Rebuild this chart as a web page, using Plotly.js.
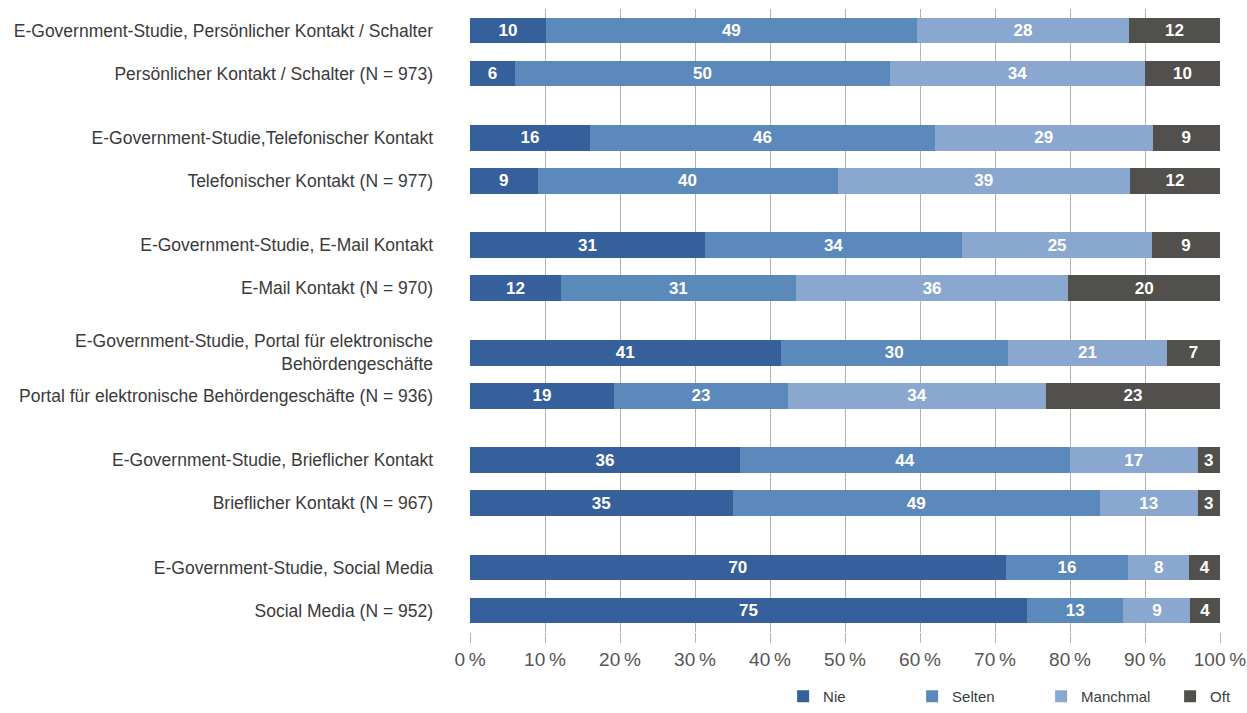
<!DOCTYPE html>
<html>
<head>
<meta charset="utf-8">
<script src="https://cdn.plot.ly/plotly-3.0.1.min.js"></script>
<style>html,body{margin:0;padding:0;background:#fff;}#chart{width:1247px;height:713px;}</style>
</head>
<body>
<div id="chart"></div>
<script>
// Row labels (top to bottom), grouped in pairs
const groupLabels = [
  ["E-Government-Studie, Persönlicher Kontakt / Schalter", "Persönlicher Kontakt / Schalter (N = 973)"],
  ["E-Government-Studie,Telefonischer Kontakt", "Telefonischer Kontakt (N = 977)"],
  ["E-Government-Studie, E-Mail Kontakt", "E-Mail Kontakt (N = 970)"],
  ["E-Government-Studie, Portal für elektronische<br>Behördengeschäfte", "Portal für elektronische Behördengeschäfte (N = 936)"],
  ["E-Government-Studie, Brieflicher Kontakt", "Brieflicher Kontakt (N = 967)"],
  ["E-Government-Studie, Social Media", "Social Media (N = 952)"]
];
const seriesNames = ["Nie", "Selten", "Manchmal", "Oft"];
const nie      = [10, 6, 16, 9, 31, 12, 41, 19, 36, 35, 70, 75];
const selten   = [49, 50, 46, 40, 34, 31, 30, 23, 44, 49, 16, 13];
const manchmal = [28, 34, 29, 39, 25, 36, 21, 34, 17, 13, 8, 9];
const oft      = [12, 10, 9, 12, 9, 20, 7, 23, 3, 3, 4, 4];
const xTickVals = [0, 10, 20, 30, 40, 50, 60, 70, 80, 90, 100];
const xTickText = ["0\u2009%", "10\u2009%", "20\u2009%", "30\u2009%", "40\u2009%", "50\u2009%", "60\u2009%", "70\u2009%", "80\u2009%", "90\u2009%", "100\u2009%"];

const colors = ["#36609b", "#5c89bb", "#8aa7cf", "#52504c"];

// positions derived from grouping: pairs separated by a half-row gap
const labels = [], pos = [];
groupLabels.forEach((g, gi) => g.forEach((lab, mi) => { labels.push(lab); pos.push(gi * 2.5 + mi); }));

const seriesVals = [nie, selten, manchmal, oft];
const traces = seriesVals.map((vals, i) => ({
  type: "bar",
  orientation: "h",
  name: seriesNames[i],
  y: pos,
  x: vals,
  text: vals.map(String),
  textposition: "inside",
  insidetextanchor: "middle",
  textangle: 0,
  textfont: {family: "Liberation Sans, Arial, sans-serif", size: 17, color: "#ffffff", weight: "bold"},
  marker: {color: colors[i], line: {width: 0}},
  width: 0.6,
  hoverinfo: "skip"
}));

const layout = {
  width: 1247, height: 713,
  margin: {l: 470, r: 27, t: 9, b: 81},
  barmode: "stack",
  barnorm: "percent",
  paper_bgcolor: "#ffffff",
  plot_bgcolor: "#ffffff",
  font: {family: "Liberation Sans, Arial, sans-serif", color: "#3c3c3c"},
  xaxis: {
    range: [0, 100], tickmode: "array", tickvals: xTickVals, ticktext: xTickText,
    showgrid: true, gridcolor: "#b4b4b4", gridwidth: 1,
    zeroline: false, showline: false,
    ticks: "outside", ticklen: 10, tickcolor: "#b4b4b4",
    tickfont: {size: 19, color: "#555555"},
    automargin: false,
    fixedrange: true
  },
  yaxis: {
    range: [14, -0.5], tickmode: "array", tickvals: pos, ticktext: labels,
    showgrid: false, zeroline: false, showline: false,
    ticks: "", ticklabelstandoff: 36,
    tickfont: {size: 17.5, color: "#3a3a3a"},
    automargin: false,
    fixedrange: true
  },
  showlegend: true,
  legend: {
    orientation: "h", xref: "container", yref: "container",
    x: 0.628, xanchor: "left", y: -0.012, yanchor: "bottom",
    entrywidth: 84, entrywidthmode: "pixels",
    font: {size: 15, color: "#3c3c3c"}, traceorder: "normal",
    itemclick: false, itemdoubleclick: false
  }
};

Plotly.newPlot("chart", traces, layout, {displayModeBar: false, staticPlot: true});
</script>
</body>
</html>
